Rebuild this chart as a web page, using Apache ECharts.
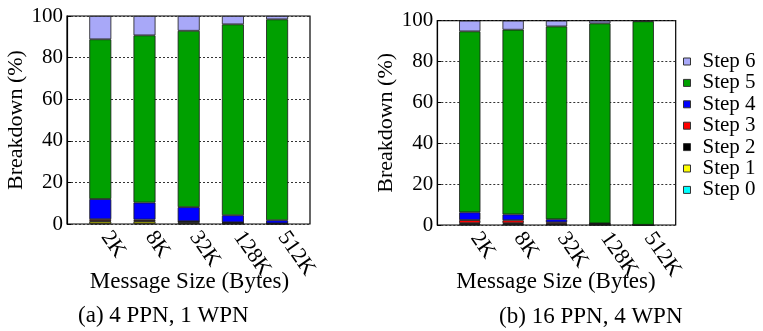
<!DOCTYPE html>
<html>
<head>
<meta charset="utf-8">
<script src="https://cdn.jsdelivr.net/npm/echarts@6/dist/echarts.min.js"></script>
<style>html,body{margin:0;padding:0;background:#fff}#c{width:763px;height:331px}</style>
</head>
<body>
<div id="c"></div>
<script>
const categories = ['2K', '8K', '32K', '128K', '512K'];
const stepNames = ['Step 0', 'Step 1', 'Step 2', 'Step 3', 'Step 4', 'Step 5', 'Step 6'];
const stepColors = ['#00ffff', '#ffff00', '#000000', '#ff0000', '#0000ff', '#00a000', '#a8a8f8'];

// (a) 4 PPN, 1 WPN
const a_step0 = [0.2, 0.2, 0.1, 0.1, 0.05];
const a_step1 = [1.0, 1.0, 0.5, 0.2, 0.1];
const a_step2 = [0.3, 0.3, 0.6, 0.4, 0.1];
const a_step3 = [0.8, 0.6, 0.1, 0.1, 0.05];
const a_step4 = [9.7, 8.2, 6.8, 3.4, 1.5];
const a_step5 = [76.8, 80.4, 84.8, 91.8, 96.6];
const a_step6 = [11.2, 9.3, 7.1, 4.0, 1.6];

// (b) 16 PPN, 4 WPN
const b_step0 = [0.1, 0.1, 0.1, 0.05, 0.02];
const b_step1 = [0.4, 0.4, 0.3, 0.1, 0.02];
const b_step2 = [0.4, 0.4, 0.3, 0.4, 0.02];
const b_step3 = [1.5, 1.4, 0.6, 0.1, 0.02];
const b_step4 = [3.8, 2.9, 1.5, 0.15, 0.02];
const b_step5 = [88.6, 90.4, 94.4, 97.9, 99.6];
const b_step6 = [5.2, 4.4, 2.8, 1.3, 0.3];

const aSteps = [a_step0, a_step1, a_step2, a_step3, a_step4, a_step5, a_step6];
const bSteps = [b_step0, b_step1, b_step2, b_step3, b_step4, b_step5, b_step6];

const FONT = 'Liberation Serif';

const panels = [
  { grid: { left: 67, top: 16, width: 243, height: 208 }, barLeft: 78.2, barGridWidth: 221, barWidth: 22, steps: aSteps, stack: 'a' },
  { grid: { left: 437.3, top: 20.7, width: 238.4, height: 204.3 }, barLeft: 448.1, barGridWidth: 216.8, barWidth: 21.3, steps: bSteps, stack: 'b' }
];

const grids = [], xAxes = [], yAxes = [], series = [];
panels.forEach((p) => {
  // frame grid: border, y ticks, gridlines
  const gF = grids.length;
  grids.push(Object.assign({ show: true, borderColor: '#000', borderWidth: 1.2, backgroundColor: '#fff' }, p.grid));
  xAxes.push({ gridIndex: gF, type: 'value', min: 0, max: 1, show: false });
  yAxes.push({ gridIndex: gF, type: 'value', min: 0, max: 100, interval: 20,
    name: 'Breakdown (%)', nameLocation: 'middle', nameGap: 40,
    nameTextStyle: { fontFamily: FONT, fontSize: 22, color: '#000' },
    axisLine: { show: true, lineStyle: { color: '#000', width: 1.2 } },
    axisTick: { show: true, inside: true, length: 4, lineStyle: { color: '#000' } },
    axisLabel: { fontFamily: FONT, fontSize: 21, color: '#000', margin: 4 },
    splitLine: { show: true, lineStyle: { color: '#333', type: [2, 2], width: 1 } } });
  // bar grid: categories and bars
  const gB = grids.length;
  grids.push({ left: p.barLeft, width: p.barGridWidth, top: p.grid.top, height: p.grid.height, show: false });
  xAxes.push({ gridIndex: gB, type: 'category', data: categories, boundaryGap: true,
    axisLine: { show: false }, axisTick: { show: false }, splitLine: { show: false },
    axisLabel: { interval: 0, rotate: -55, margin: 2, padding: [0, 0, 0, 9], fontFamily: FONT, fontSize: 22, color: '#000' } });
  yAxes.push({ gridIndex: gB, type: 'value', min: 0, max: 100, show: false });
  p.steps.forEach((vals, si) => {
    series.push({
      type: 'bar', name: stepNames[si], stack: p.stack,
      xAxisIndex: gB, yAxisIndex: gB,
      barWidth: p.barWidth,
      data: vals,
      itemStyle: { color: stepColors[si], borderColor: '#1a1a1a', borderWidth: 0.8 },
      emphasis: { disabled: true },
      animation: false
    });
  });
});

const chart = echarts.init(document.getElementById('c'), null, { renderer: 'canvas' });
chart.setOption({
  animation: false,
  grid: grids,
  xAxis: xAxes,
  yAxis: yAxes,
  series: series,
  legend: {
    orient: 'vertical', left: 683, top: 51, padding: 0,
    data: stepNames.slice().reverse(),
    icon: 'rect', itemWidth: 7, itemHeight: 7, itemGap: 0.4,
    itemStyle: { borderColor: '#333', borderWidth: 1 },
    textStyle: { fontFamily: FONT, fontSize: 21, color: '#000', lineHeight: 20, padding: [0, 0, 0, 7] },
    selectedMode: false
  },
  graphic: [
    { type: 'text', x: 189.5, y: 282, style: { text: 'Message Size (Bytes)', font: '23px "Liberation Serif"', fill: '#000', textAlign: 'center', textVerticalAlign: 'middle' } },
    { type: 'text', x: 556, y: 282, style: { text: 'Message Size (Bytes)', font: '23px "Liberation Serif"', fill: '#000', textAlign: 'center', textVerticalAlign: 'middle' } },
    { type: 'text', x: 163.3, y: 316, style: { text: '(a) 4 PPN, 1 WPN', font: '23px "Liberation Serif"', fill: '#000', textAlign: 'center', textVerticalAlign: 'middle' } },
    { type: 'text', x: 590.8, y: 317, style: { text: '(b) 16 PPN, 4 WPN', font: '23px "Liberation Serif"', fill: '#000', textAlign: 'center', textVerticalAlign: 'middle' } }
  ]
});
</script>
</body>
</html>
